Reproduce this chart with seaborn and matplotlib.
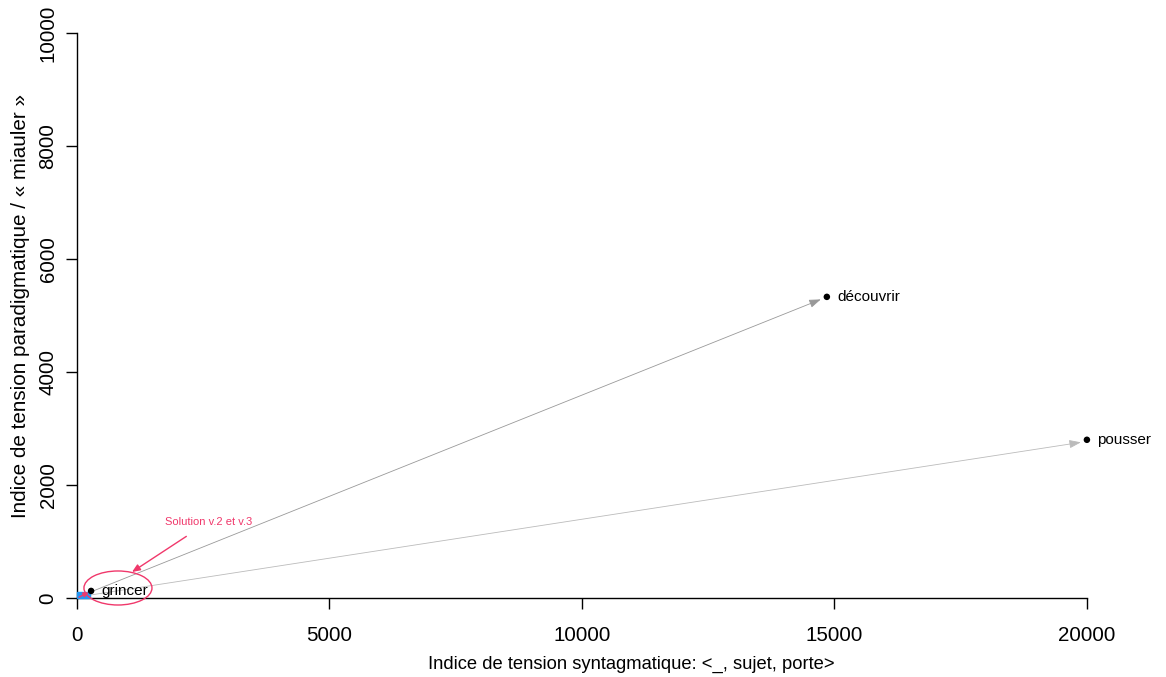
import matplotlib
matplotlib.use("Agg")
import matplotlib.pyplot as plt
from matplotlib.patches import Ellipse, Rectangle
import pandas as pd
import seaborn as sns

# values
verbes = ["grincer", "découvrir", "pousser"]
tension_synt = [280, 14850, 20000]
tension_para = [125, 5330, 2800]
couleurs_fleche = ["#555555", "#999999", "#bbbbbb"]

xticks = [0, 5000, 10000, 15000, 20000]
yticks = [0, 2000, 4000, 6000, 8000, 10000]

df = pd.DataFrame({"verbe": verbes, "x": tension_synt, "y": tension_para})

sns.set_style("white")
plt.rcParams["font.family"] = ["Liberation Sans", "DejaVu Sans"]
plt.rcParams["text.color"] = "black"
plt.rcParams["axes.labelcolor"] = "black"
plt.rcParams["xtick.color"] = "black"
plt.rcParams["ytick.color"] = "black"

fig = plt.figure(figsize=(11.66, 6.77), dpi=100)
ax = fig.add_axes([0.066, 0.1167, 0.9288, 0.8464])

# grey arrows from the origin toward decouvrir / pousser
for i in [1, 2]:
    ax.annotate("", xy=(df.x[i] - 120, df.y[i] - 45), xytext=(30, 20),
                arrowprops=dict(arrowstyle="-|>,head_length=0.7,head_width=0.25",
                                color=couleurs_fleche[i], lw=0.6,
                                shrinkA=0, shrinkB=0))

# small cluster near origin
ax.add_patch(Rectangle((0, 0), 260, 100, color="#2196F3", zorder=3, clip_on=False))
ax.annotate("", xy=(230, 100), xytext=(40, 15),
            arrowprops=dict(arrowstyle="-|>,head_length=0.3,head_width=0.15",
                            color="#F0386B", lw=1, shrinkA=0, shrinkB=0),
            zorder=4)

sns.scatterplot(data=df, x="x", y="y", color="black", s=22, edgecolor="none",
                ax=ax, zorder=5, clip_on=False)
for _, r in df.iterrows():
    ax.text(r.x + 210, r.y, r.verbe, fontsize=11, va="center", ha="left")

# highlight of the solution
ax.add_patch(Ellipse((812, 177), 1347, 602, fill=False, edgecolor="#F0386B",
                     lw=1, clip_on=False, zorder=6))
ax.annotate("Solution v.2 et v.3", xy=(1090, 460), xytext=(2600, 1345),
            fontsize=8, color="#F0386B", ha="center", va="center",
            arrowprops=dict(arrowstyle="-|>,head_length=0.6,head_width=0.25",
                            color="#F0386B", lw=1, shrinkA=8, shrinkB=0))

ax.set_xlim(0, 21446)
ax.set_ylim(0, 10142)
ax.set_xticks(xticks)
ax.set_yticks(yticks)
ax.set_xticklabels([str(t) for t in xticks], fontsize=14.8)
ax.set_yticklabels([str(t) for t in yticks], fontsize=14.8, rotation=90, va="center")
ax.tick_params(axis="both", direction="out", length=8, width=1, color="black",
               bottom=True, left=True)
ax.tick_params(axis="x", pad=12)
ax.tick_params(axis="y", pad=6)

sns.despine(ax=ax)
ax.spines["left"].set_bounds(0, 10000)
ax.spines["bottom"].set_bounds(0, 20000)
for s in ["left", "bottom"]:
    ax.spines[s].set_color("black")
    ax.spines[s].set_linewidth(1)

ax.set_xlabel("Indice de tension syntagmatique: <_, sujet, porte>", fontsize=13.2, labelpad=8)
ax.set_ylabel("Indice de tension paradigmatique / « miauler »", fontsize=14.9, labelpad=6)
ax.xaxis.label.set_x(0.5115)
ax.yaxis.label.set_y(0.5096)

fig.savefig("out.png", dpi=100)
